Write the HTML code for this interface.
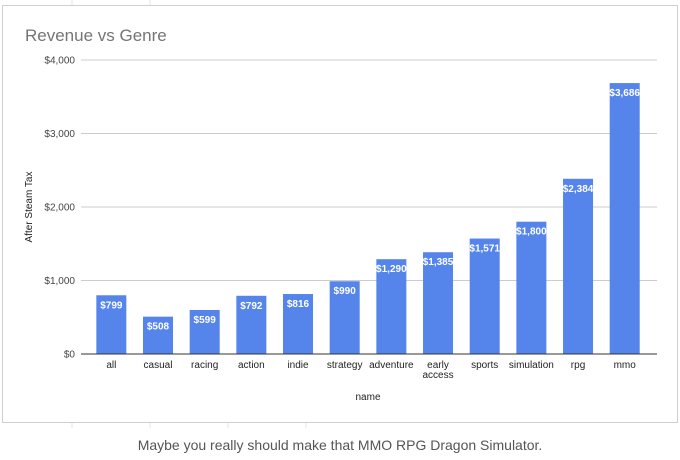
<!DOCTYPE html>
<html><head><meta charset="utf-8"><style>
body{margin:0;background:#fff;width:680px;height:455px;overflow:hidden;font-family:"Liberation Sans",Arial,sans-serif}
</style></head><body>
<svg width="680" height="455">
<g stroke="#e6e6e6" stroke-width="1">
<line x1="72" y1="0" x2="72" y2="5"/><line x1="150" y1="0" x2="150" y2="5"/><line x1="72" y1="422" x2="72" y2="428"/><line x1="150" y1="422" x2="150" y2="428"/><line x1="228" y1="422" x2="228" y2="428"/><line x1="306" y1="422" x2="306" y2="428"/>
</g>
<rect x="2.5" y="5.5" width="675" height="417" fill="#fff" stroke="#cfcfcf"/>
<text x="25" y="41" font-size="17" fill="#757575">Revenue vs Genre</text>
<g id="grid"></g><g id="bars"></g>
<text transform="translate(32,207) rotate(-90)" text-anchor="middle" font-size="10" fill="#222">After Steam Tax</text>
<text x="368" y="400" text-anchor="middle" font-size="10" fill="#222">name</text>
<text x="340" y="450" text-anchor="middle" font-size="14" fill="#555">Maybe you really should make that MMO RPG Dragon Simulator.</text>
</svg>
<script>
const categories=["all","casual","racing","action","indie","strategy","adventure","early access","sports","simulation","rpg","mmo"];
const values=[799,508,599,792,816,990,1290,1385,1571,1800,2384,3686];
const ticks=[0,1000,2000,3000,4000];
const tickLabels=["$0","$1,000","$2,000","$3,000","$4,000"];
const ns="http://www.w3.org/2000/svg";
const y=v=>354-v*0.0735;
const x0=88,step=46.67,bw=30;
const cx=i=>x0+step*(i+0.5);
function mk(t,a,p){const e=document.createElementNS(ns,t);for(const k in a)e.setAttribute(k,a[k]);p.appendChild(e);return e;}
const g=document.getElementById('grid'),b=document.getElementById('bars');
ticks.forEach((t,i)=>{
 const l=mk('line',{x1:81,x2:657,y1:y(t),y2:y(t),stroke:t===0?'#333':'#ccc','stroke-width':1},g);
 
 
 const tx=mk('text',{x:75,y:y(t)+3.5,'text-anchor':'end','font-size':10,fill:'#444'},g);tx.textContent=tickLabels[i];
 
 
});
categories.forEach((c,i)=>{
 const r=mk('rect',{x:cx(i)-bw/2,y:y(values[i]),width:bw,height:354-y(values[i]),fill:'#5585eb'},b);
 
 
 const v=mk('text',{x:cx(i),y:y(values[i])+13,'text-anchor':'middle','font-size':10,'font-weight':'bold',fill:'#fff'},b);
 v.textContent='$'+values[i].toLocaleString('en-US');
 
 
 const words=c.split(' ');
 words.forEach((w,j)=>{
  const t=mk('text',{x:cx(i),y:368+j*10,'text-anchor':'middle','font-size':10,fill:'#222'},b);t.textContent=w;
  
  
 });
});
b.appendChild(g.firstChild);
</script>
</body></html>
